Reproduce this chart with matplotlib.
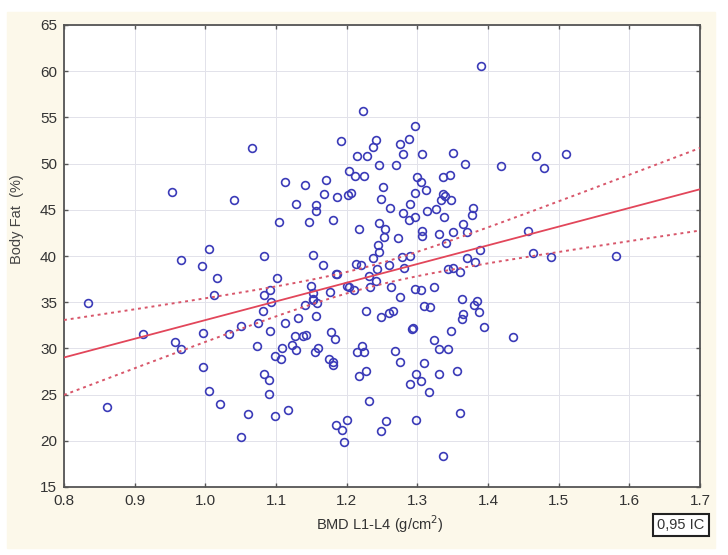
import numpy as np
import matplotlib
matplotlib.use('Agg')
import matplotlib.pyplot as plt
from matplotlib.patches import Rectangle

plt.rcParams['font.family'] = ['Liberation Sans Narrow', 'Liberation Sans', 'DejaVu Sans']

# BMD L1-L4 (g/cm2) and body fat (%)
bmd = [1.066, 0.953, 1.113, 1.041, 1.129, 1.104, 1.005, 0.966, 1.083, 0.995,
       1.016, 1.101, 1.091, 1.012, 1.083, 0.834, 1.093, 1.082, 1.113, 1.131,
       1.075, 1.051, 1.033, 0.912, 0.996, 1.092, 1.127, 0.957, 0.965, 1.073,
       1.123, 1.129, 1.108, 1.099, 1.107, 0.997, 1.083, 1.090, 1.090, 1.005,
       0.861, 1.021, 1.061, 1.098, 1.117, 1.051, 1.223, 1.297, 1.192, 1.242,
       1.288, 1.275, 1.237, 1.215, 1.229, 1.280, 1.306, 1.350, 1.246, 1.270,
       1.367, 1.204, 1.212, 1.224, 1.141, 1.171, 1.299, 1.336, 1.346, 1.251,
       1.305, 1.312, 1.296, 1.168, 1.186, 1.202, 1.206, 1.157, 1.157, 1.248,
       1.289, 1.262, 1.280, 1.296, 1.288, 1.313, 1.327, 1.337, 1.334, 1.347,
       1.339, 1.338, 1.146, 1.181, 1.246, 1.254, 1.217, 1.253, 1.272, 1.306,
       1.306, 1.331, 1.350, 1.365, 1.370, 1.340, 1.245, 1.246, 1.153, 1.237,
       1.279, 1.289, 1.166, 1.213, 1.220, 1.243, 1.260, 1.281, 1.185, 1.186,
       1.149, 1.152, 1.153, 1.153, 1.158, 1.141, 1.177, 1.200, 1.204, 1.210,
       1.232, 1.242, 1.233, 1.263, 1.276, 1.297, 1.305, 1.324, 1.343, 1.350,
       1.360, 1.370, 1.363, 1.310, 1.318, 1.365, 1.363, 1.157, 1.228, 1.248,
       1.260, 1.265, 1.293, 1.294, 1.178, 1.184, 1.138, 1.143, 1.160, 1.155,
       1.175, 1.180, 1.180, 1.221, 1.215, 1.224, 1.268, 1.276, 1.310, 1.347,
       1.324, 1.331, 1.343, 1.356, 1.228, 1.218, 1.298, 1.289, 1.305, 1.330,
       1.316, 1.232, 1.361, 1.200, 1.185, 1.194, 1.196, 1.256, 1.248, 1.298,
       1.337, 1.390, 1.418, 1.468, 1.479, 1.511, 1.379, 1.378, 1.456, 1.388,
       1.463, 1.489, 1.581, 1.382, 1.380, 1.385, 1.387, 1.394, 1.435]
fat = [51.7, 46.9, 48.0, 46.1, 45.6, 43.7, 40.8, 39.6, 40.0, 38.9,
       37.6, 37.6, 36.3, 35.8, 35.8, 34.9, 35.0, 34.1, 32.8, 33.3,
       32.8, 32.4, 31.6, 31.6, 31.7, 31.9, 31.3, 30.7, 29.9, 30.3,
       30.4, 29.8, 30.0, 29.2, 28.8, 28.0, 27.2, 26.6, 25.1, 25.4,
       23.7, 24.0, 22.9, 22.7, 23.3, 20.4, 55.7, 54.1, 52.5, 52.6,
       52.7, 52.1, 51.8, 50.8, 50.8, 51.0, 51.0, 51.2, 49.8, 49.8,
       50.0, 49.2, 48.7, 48.7, 47.7, 48.2, 48.5, 48.5, 48.8, 47.5,
       48.0, 47.1, 46.8, 46.7, 46.4, 46.6, 46.8, 45.5, 44.9, 46.2,
       45.6, 45.2, 44.6, 44.2, 43.9, 44.9, 45.1, 46.7, 46.1, 46.1,
       46.5, 44.2, 43.7, 43.9, 43.6, 42.9, 42.9, 42.1, 41.9, 42.7,
       42.2, 42.4, 42.6, 43.5, 42.6, 41.4, 41.2, 40.4, 40.1, 39.8,
       39.9, 40.0, 39.0, 39.1, 39.0, 38.6, 39.0, 38.7, 38.1, 38.0,
       36.8, 36.0, 35.4, 35.2, 34.9, 34.7, 36.1, 36.7, 36.6, 36.3,
       37.8, 37.3, 36.6, 36.6, 35.6, 36.4, 36.3, 36.6, 38.6, 38.7,
       38.3, 39.8, 35.4, 34.6, 34.5, 33.7, 33.2, 33.5, 34.0, 33.4,
       33.8, 34.1, 32.1, 32.2, 31.8, 31.0, 31.3, 31.5, 30.0, 29.6,
       28.9, 28.5, 28.2, 30.3, 29.6, 29.6, 29.7, 28.5, 28.4, 31.9,
       30.9, 29.9, 29.9, 27.6, 27.6, 27.0, 27.2, 26.2, 26.5, 27.2,
       25.3, 24.3, 23.0, 22.3, 21.7, 21.2, 19.9, 22.1, 21.1, 22.3,
       18.4, 60.6, 49.7, 50.8, 49.5, 51.0, 45.2, 44.4, 42.7, 40.6,
       40.3, 39.9, 40.0, 39.3, 34.7, 35.1, 33.9, 32.3, 31.2]

x_ticks = [0.8, 0.9, 1.0, 1.1, 1.2, 1.3, 1.4, 1.5, 1.6, 1.7]
y_ticks = [15, 20, 25, 30, 35, 40, 45, 50, 55, 60, 65]

x = np.array(bmd)
y = np.array(fat)

# linear fit + 95% confidence band of the mean
n = len(x)
slope, icpt = np.polyfit(x, y, 1)
resid = y - (icpt + slope * x)
s = np.sqrt(np.sum(resid ** 2) / (n - 2))
sxx = np.sum((x - x.mean()) ** 2)
xs = np.linspace(0.8, 1.7, 200)
ys = icpt + slope * xs
half = 1.97 * s * np.sqrt(1 / n + (xs - x.mean()) ** 2 / sxx)

fig = plt.figure(figsize=(7.28, 5.55), dpi=100)
fig.patches.append(Rectangle((7 / 728, 1 - 548 / 555), 708 / 728, 536 / 555,
                             transform=fig.transFigure, color='#fcf8ea', zorder=-5))
ax = fig.add_axes([64 / 728, 1 - 487 / 555, 636 / 728, 462 / 555])
ax.set_facecolor('white')

ax.plot(x, y, 'o', mfc='none', mec='#3b3bb8', ms=5.6, mew=1.2, zorder=3)
ax.plot(xs, ys, color='#e2465a', lw=1.3, zorder=4)
ax.plot(xs, ys + half, color='#d8566a', lw=1.4, ls=(0, (1.5, 2)), zorder=4)
ax.plot(xs, ys - half, color='#d8566a', lw=1.4, ls=(0, (1.5, 2)), zorder=4)

ax.set_xlim(0.8, 1.7)
ax.set_ylim(15, 65)
ax.set_xticks(x_ticks)
ax.set_xticklabels([f'{t:.1f}' for t in x_ticks])
ax.set_yticks(y_ticks)
ax.grid(True, color='#e2e2ea', lw=0.7)
ax.set_axisbelow(True)
ax.tick_params(direction='in', length=3, width=1, color='#555555', top=True, right=True,
               labelsize=11, labelcolor='#333333', pad=5)
for sp in ax.spines.values():
    sp.set_color('#555555')
    sp.set_linewidth(1.3)

ax.set_xlabel('BMD L1-L4 (g/cm$^{2}$)', fontsize=10.5, color='#333333')
ax.xaxis.set_label_coords(0.497, -0.056)
ax.set_ylabel('Body Fat  (%)', fontsize=10.5, color='#444444')
ax.yaxis.set_label_coords(-0.063, 0.58)

ax.text(0.97, -0.082, '0,95 IC', transform=ax.transAxes, ha='center', va='center',
        fontsize=10.5, color='#333333',
        bbox=dict(boxstyle='square,pad=0.3', fc='white', ec='#222222', lw=1.5))

fig.savefig('out.png', dpi=100, facecolor='white')
